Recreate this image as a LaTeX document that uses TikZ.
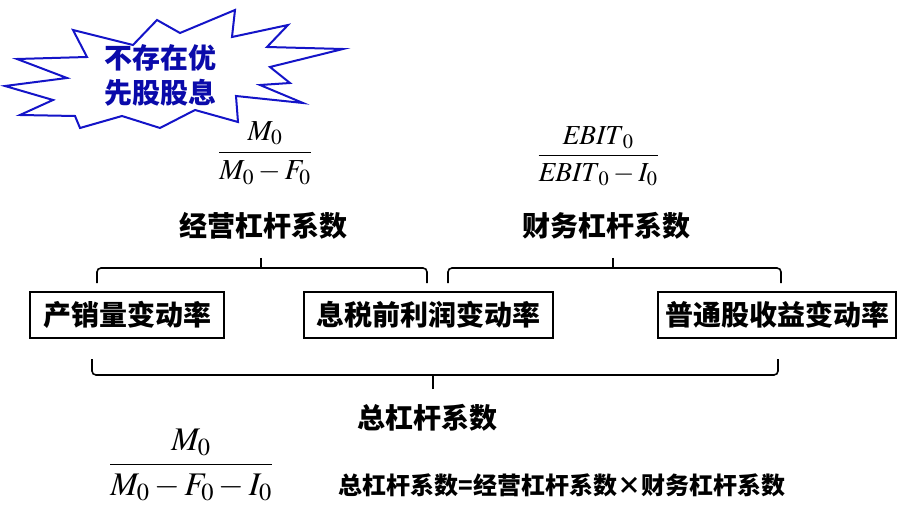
\documentclass[tikz,border=0pt]{standalone}
\usepackage{amsmath}
\usepackage{mathptmx}
\usepackage{fontspec}
\newfontfamily\cjk{Noto Sans CJK SC Black}
\definecolor{starblue}{RGB}{20,20,200}
\definecolor{textblue}{RGB}{10,10,170}
\tikzset{
  lbl/.style={font=\cjk\fontsize{28}{32}\selectfont, inner sep=0pt},
  rate/.style={draw, line width=1.2pt, minimum height=46pt, inner sep=0pt, font=\cjk\fontsize{28}{32}\selectfont},
  frac/.style={inner sep=0pt, font=\fontsize{29}{33}\selectfont},
  brace/.style={line width=1.6pt, rounded corners=4pt},
}
\begin{document}
\begin{tikzpicture}[x=1pt,y=-1pt]
\useasboundingbox (0,0) rectangle (897,505);
% star
\draw[starblue, line width=2pt, line join=miter, fill=white]
 (73,30) -- (133,45) -- (157,20) -- (180,33) -- (235,10) -- (232,37) -- (288,25) -- (267,47) -- (343,49) -- (270,67) -- (290,83) -- (260,85) -- (303,103) -- (236,96) -- (238,122) -- (195,110) -- (160,128) -- (122,116) -- (80,128) -- (75,116) -- (20,115) -- (53,100) -- (5,86) -- (67,78) -- (17,59) -- (87,57) -- cycle;
\node[lbl, text=textblue, align=center, font=\cjk\fontsize{28}{35}\selectfont] (star) at (160,75) {不存在优\\先股股息};
% fractions
\node[frac] (fop) at (265,153) {$\dfrac{M_0}{M_0-F_0}$};
\node[frac, font=\fontsize{27.5}{32}\selectfont] (ffin) at (598,156) {$\dfrac{\mathit{EBIT}_0}{\mathit{EBIT}_0-I_0}$};
\node[frac, font=\fontsize{33}{38}\selectfont] (ftot) at (191,465) {$\dfrac{M_0}{M_0-F_0-I_0}$};
% labels
\node[lbl] (op) at (263,226) {经营杠杆系数};
\node[lbl] (fin) at (606,226) {财务杠杆系数};
\node[lbl] (tot) at (427,418) {总杠杆系数};
\node[lbl, font=\cjk\fontsize{24}{28}\selectfont] (eq) at (562,485) {总杠杆系数=经营杠杆系数×财务杠杆系数};
% boxes
\node[rate, minimum width=194pt] (b1) at (127,315) {产销量变动率};
\node[rate, minimum width=249pt] (b2) at (428.5,315) {息税前利润变动率};
\node[rate, minimum width=238pt] (b3) at (777,315) {普通股收益变动率};
% braces
\coordinate (t1) at (261,258);
\coordinate (t2) at (613,258);
\coordinate (t3) at (433,389);
\draw[brace] (97,283) -- (97,268) -- (427,268) -- (427,283);
\draw[line width=1.6pt] (t1) -- (261,268);
\draw[brace] (448,283) -- (448,268) -- (781,268) -- (781,283);
\draw[line width=1.6pt] (t2) -- (613,268);
\draw[brace] (92,359) -- (92,375) -- (778,375) -- (778,359);
\draw[line width=1.6pt] (t3) -- (433,375);
\end{tikzpicture}
\end{document}
